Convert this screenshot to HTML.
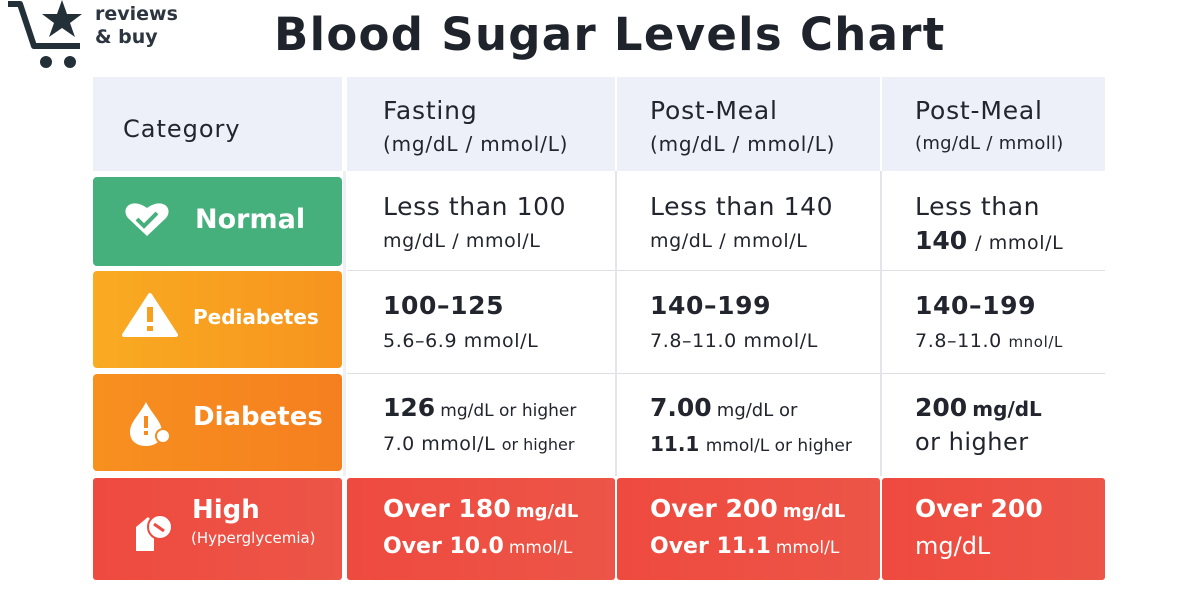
<!DOCTYPE html>
<html><head><meta charset="utf-8"><style>
body{margin:0;width:1200px;height:600px;background:#fff;position:relative;overflow:hidden;font-family:"DejaVu Sans","Liberation Sans",sans-serif;color:#22252d}
.a{position:absolute;box-sizing:border-box}
.t{position:absolute;white-space:nowrap}
.h{background:#edf0f9}
.cat{border-radius:4px;color:#fff}
.red{background:linear-gradient(90deg,#ef4a3f,#ec5547);border-radius:3px}
.big{font-size:25px;letter-spacing:0.6px}
.sm{font-size:19px;letter-spacing:0.6px}
.w{color:#fff}
</style></head><body>
<svg class="a" style="left:0;top:0" width="90" height="72" viewBox="0 0 90 72">
<path d="M8 4 L20 4 L34 46 L80 46" fill="none" stroke="#243038" stroke-width="6" stroke-linejoin="round"/>
<polygon points="62,0 67,14 82,14 70,23 75,37 62,28 49,37 54,23 42,14 57,14" fill="#243038"/>
<circle cx="46" cy="62" r="6" fill="#243038"/><circle cx="70" cy="62" r="6" fill="#243038"/>
</svg>
<div class="t" style="left:95px;top:3px;font-size:19px;font-weight:bold;color:#2c3540;line-height:23px">reviews<br>&amp; buy</div>
<div class="t" style="left:274px;top:8px;font-size:45px;font-weight:bold;color:#1f232b;letter-spacing:1.3px">Blood Sugar Levels Chart</div>

<div class="a h" style="left:93px;top:77px;width:249px;height:94px"></div>
<div class="a h" style="left:347px;top:77px;width:268px;height:94px"></div>
<div class="a h" style="left:617px;top:77px;width:263px;height:94px"></div>
<div class="a h" style="left:882px;top:77px;width:223px;height:94px"></div>
<div class="t" style="left:123px;top:115px;font-size:24px;letter-spacing:1px">Category</div>
<div class="t" style="left:383px;top:96px;font-size:25px;letter-spacing:0.8px">Fasting</div>
<div class="t" style="left:383px;top:132px;font-size:20px;letter-spacing:0.8px">(mg/dL / mmol/L)</div>
<div class="t" style="left:650px;top:96px;font-size:25px;letter-spacing:0.8px">Post-Meal</div>
<div class="t" style="left:650px;top:132px;font-size:20px;letter-spacing:0.8px">(mg/dL / mmol/L)</div>
<div class="t" style="left:915px;top:96px;font-size:25px;letter-spacing:0.8px">Post-Meal</div>
<div class="t" style="left:915px;top:133px;font-size:18px;letter-spacing:0.3px">(mg/dL / mmoll)</div>

<div class="a" style="left:347px;top:270px;width:758px;height:1px;background:#dde0e6"></div>
<div class="a" style="left:347px;top:373px;width:758px;height:1px;background:#dde0e6"></div>
<div class="a" style="left:615px;top:171px;width:2px;height:305px;background:#e3e5ea"></div>
<div class="a" style="left:880px;top:171px;width:2px;height:305px;background:#e3e5ea"></div>
<div class="a" style="left:343px;top:171px;width:3px;height:305px;background:#eef0f4"></div>

<div class="a cat" style="left:93px;top:177px;width:249px;height:89px;background:#45b07c"></div>
<div class="a cat" style="left:93px;top:271px;width:249px;height:97px;background:linear-gradient(90deg,#f9ab22,#f7941e)"></div>
<div class="a cat" style="left:93px;top:374px;width:249px;height:97px;background:linear-gradient(90deg,#f7901f,#f57f1f)"></div>
<div class="a cat red" style="left:93px;top:478px;width:249px;height:102px"></div>
<div class="a red" style="left:347px;top:478px;width:268px;height:102px"></div>
<div class="a red" style="left:617px;top:478px;width:263px;height:102px"></div>
<div class="a red" style="left:882px;top:478px;width:223px;height:102px"></div>

<svg class="a" style="left:122px;top:200px" width="50" height="40" viewBox="0 0 50 40"><path d="M25 36 L6 18 C-2 8 10 -3 25 8 C40 -3 52 8 44 18 Z" fill="#fff"/><path d="M15 19 L22 26 L35 13" stroke="#45b07c" stroke-width="4" fill="none"/></svg>
<svg class="a" style="left:121px;top:292px" width="58" height="46" viewBox="0 0 58 46"><path d="M29 3 L55 43 L3 43 Z" fill="#fff" stroke="#fff" stroke-width="4" stroke-linejoin="round"/><rect x="26" y="15" width="6" height="15" fill="#f7a020"/><rect x="26" y="34" width="6" height="5" fill="#f7a020"/></svg>
<svg class="a" style="left:126px;top:400px" width="50" height="48" viewBox="0 0 50 48"><path d="M20 2 C14 14 4 22 4 32 C4 42 12 46 20 46 C28 46 36 42 36 32 C36 22 26 14 20 2Z" fill="#fff"/><rect x="18" y="16" width="4" height="12" fill="#f68a1f"/><rect x="18" y="31" width="4" height="4" fill="#f68a1f"/><circle cx="37" cy="36" r="7" fill="#fff" stroke="#f68a1f" stroke-width="2"/></svg>
<svg class="a" style="left:132px;top:507px" width="50" height="48" viewBox="0 0 50 48"><path d="M4 20 L16 10 L22 16 L22 44 L4 44 Z" fill="#fff"/><circle cx="28" cy="20" r="12" fill="#fff" stroke="#ef4a3f" stroke-width="2"/><path d="M22 17 L32 24" stroke="#ef4a3f" stroke-width="3"/></svg>

<div class="t w" style="left:195px;top:204px;font-size:27px;font-weight:bold">Normal</div>
<div class="t w" style="left:193px;top:305px;font-size:20px;font-weight:bold">Pediabetes</div>
<div class="t w" style="left:193px;top:402px;font-size:26px;font-weight:bold">Diabetes</div>
<div class="t w" style="left:192px;top:495px;font-size:26px;font-weight:bold">High</div>
<div class="t w" style="left:191px;top:529px;font-size:15px">(Hyperglycemia)</div>

<div class="t big" style="left:383px;top:192px">Less than 100</div>
<div class="t sm" style="left:383px;top:230px">mg/dL / mmol/L</div>
<div class="t big" style="left:650px;top:192px">Less than 140</div>
<div class="t sm" style="left:650px;top:230px">mg/dL / mmol/L</div>
<div class="t big" style="left:915px;top:192px">Less than</div>
<div class="t" style="left:915px;top:226px;font-size:25px"><b>140</b> <span style="font-size:19px;letter-spacing:0.6px">/ mmol/L</span></div>

<div class="t big" style="left:383px;top:291px;font-weight:bold">100–125</div>
<div class="t sm" style="left:383px;top:330px">5.6–6.9 mmol/L</div>
<div class="t big" style="left:650px;top:291px;font-weight:bold">140–199</div>
<div class="t sm" style="left:650px;top:330px">7.8–11.0 mmol/L</div>
<div class="t big" style="left:915px;top:291px;font-weight:bold">140–199</div>
<div class="t" style="left:915px;top:330px;font-size:19px;letter-spacing:0.6px">7.8–11.0 <span style="font-size:15px">mnol/L</span></div>

<div class="t" style="left:383px;top:393px"><b style="font-size:25px">126</b> <span style="font-size:17px">mg/dL or higher</span></div>
<div class="t" style="left:383px;top:433px;font-size:19px;letter-spacing:0.5px">7.0 mmol/L <span style="font-size:16px;letter-spacing:0">or higher</span></div>
<div class="t" style="left:650px;top:393px"><b style="font-size:25px">7.00</b> <span style="font-size:18px">mg/dL or</span></div>
<div class="t" style="left:650px;top:432px;font-size:20px"><b>11.1</b> <span style="font-size:17px">mmol/L or higher</span></div>
<div class="t" style="left:915px;top:393px"><b style="font-size:25px">200</b> <span style="font-size:20px;font-weight:bold">mg/dL</span></div>
<div class="t" style="left:915px;top:428px;font-size:24px;letter-spacing:0.5px">or higher</div>

<div class="t w" style="left:383px;top:494px"><b style="font-size:25px">Over 180</b> <span style="font-size:18px;font-weight:bold">mg/dL</span></div>
<div class="t w" style="left:383px;top:534px"><span style="font-size:22px;font-weight:bold">Over 10.0</span> <span style="font-size:17px">mmol/L</span></div>
<div class="t w" style="left:650px;top:494px"><b style="font-size:25px">Over 200</b> <span style="font-size:18px;font-weight:bold">mg/dL</span></div>
<div class="t w" style="left:650px;top:534px"><span style="font-size:22px;font-weight:bold">Over 11.1</span> <span style="font-size:17px">mmol/L</span></div>
<div class="t w" style="left:915px;top:494px;font-size:25px;font-weight:bold">Over 200</div>
<div class="t w" style="left:915px;top:532px;font-size:24px">mg/dL</div>
</body></html>
